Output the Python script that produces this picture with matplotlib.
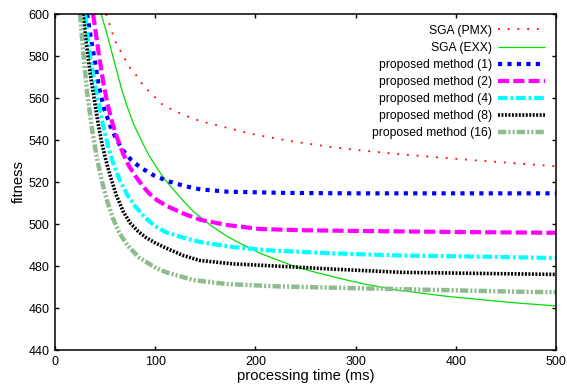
#!/usr/bin/env python

import matplotlib
matplotlib.use('Agg')
import matplotlib.pyplot as plt

plt.rcParams['font.family'] = ['Liberation Sans', 'DejaVu Sans']
plt.rcParams['lines.scale_dashes'] = False

labels = [
    'SGA (PMX)',
    'SGA (EXX)',
    'proposed method (1)',
    'proposed method (2)',
    'proposed method (4)',
    'proposed method (8)',
    'proposed method (16)',
]

# processing time (ms) / fitness
pmx_t = [51, 56, 59, 68, 78, 82, 88, 100, 108, 128, 145, 162, 195, 235, 278,
         302, 338, 375, 420, 458, 500]
pmx_v = [600, 593, 588, 580, 572, 570.5, 566, 560.3, 556.5, 552, 549, 547,
         543, 539.5, 536.5, 535.2, 533.5, 532, 530.3, 529, 527.5]

exx_t = [46, 51, 56, 61, 66, 72, 79, 87, 94, 102, 110, 118, 128, 138, 155,
         172, 190, 205, 238, 260, 285, 308, 342, 392, 458, 500]
exx_v = [600, 592, 583, 574, 565, 556, 547, 539, 532.5, 526.5, 521, 516.5,
         511, 506, 499.5, 494, 489.5, 486, 480, 477, 474, 471.5, 468.5, 465.5,
         462.5, 461]

p1_t = [32, 36, 40, 44, 49, 55, 61, 68, 76, 85, 98, 112, 130, 145, 172, 230,
        300, 500]
p1_v = [600, 588, 577, 565, 555, 547, 540.5, 535, 530.5, 527, 523.3, 520.5,
        518, 516.5, 515.4, 514.8, 514.6, 514.6]

p2_t = [38, 41, 44, 48, 52, 57, 62, 68, 74, 80, 87, 94, 102, 112, 128, 145,
        172, 205, 250, 300, 400, 500]
p2_v = [600, 590, 580, 568, 558, 548.5, 541, 533.5, 527.5, 523, 518.5, 514.5,
        511.3, 508.5, 505, 502, 499.5, 497.6, 497, 496.7, 496.2, 495.8]

p4_t = [30, 34, 38, 42, 48, 53, 58, 65, 72, 80, 90, 100, 111, 128, 145, 178,
        212, 278, 345, 420, 500]
p4_v = [600, 583, 571, 561, 547, 537, 529, 520.5, 514, 508.5, 503, 499, 496,
        493.5, 491.4, 489, 487.5, 486, 485, 484.5, 483.8]

p8_t = [28, 31, 35, 39, 43, 47, 51, 56, 61, 68, 75, 83, 91, 100, 111, 128,
        145, 178, 212, 278, 345, 420, 500]
p8_v = [600, 587, 572, 560, 548, 538, 530, 521.5, 514, 506, 500.5, 496.5,
        493.5, 491, 488.5, 485, 482.6, 481, 480.2, 478.5, 477, 476.5, 476]

p16_t = [25, 28, 32, 37, 42, 47, 52, 58, 64, 72, 84, 101, 111, 138, 172, 222,
         285, 380, 458, 500]
p16_v = [600, 583, 563, 545, 531, 520, 511, 502.5, 496, 490, 484, 479, 477,
         473.3, 471.4, 470.3, 469.6, 468.6, 467.8, 467.5]

series_t = [pmx_t, exx_t, p1_t, p2_t, p4_t, p8_t, p16_t]
series_v = [pmx_v, exx_v, p1_v, p2_v, p4_v, p8_v, p16_v]

styles = [
    dict(color='#ff0000', lw=1.3, dashes=(1.3, 5.7)),
    dict(color='#00e000', lw=0.9),
    dict(color='#0000ff', lw=3.0, dashes=(3.0, 3.8)),
    dict(color='#ff00ff', lw=3.0, dashes=(8.0, 3.0)),
    dict(color='#00ffff', lw=3.0, dashes=(7.0, 2.0, 2.0, 2.0)),
    dict(color='#000000', lw=2.6, dashes=(1.4, 1.1)),
    dict(color='#8fbc8f', lw=3.2, dashes=(6.0, 1.5, 1.5, 1.5, 1.5, 1.5)),
]


def plot_data():
    fig = plt.figure(figsize=(5.67, 3.85), dpi=100)
    ax = fig.add_axes([0.097, 0.0909, 0.8836, 0.8727])

    for t, v, lab, st in zip(series_t, series_v, labels, styles):
        ax.plot(t, v, label=lab, dash_capstyle='butt', solid_capstyle='butt', **st)

    ax.set_xlim(0, 500)
    ax.set_ylim(440, 600)
    ax.set_xticks(range(0, 501, 100))
    ax.set_yticks(range(440, 601, 20))
    ax.tick_params(direction='in', length=3.2, width=1, top=True, right=True,
                   labelsize=9, pad=4)
    for sp in ax.spines.values():
        sp.set_linewidth(1.1)

    ax.set_xlabel('processing time (ms)', fontsize=10.6, labelpad=1)
    ax.set_ylabel('fitness', fontsize=10.6, labelpad=2)

    ax.legend(loc='upper right', frameon=False, markerfirst=False, fontsize=8.7,
              handlelength=3.85, handletextpad=0.5, labelspacing=0.42,
              borderaxespad=0.4, bbox_to_anchor=(0.997, 0.997))

    plt.savefig('out.png', dpi=100)


if __name__ == '__main__':
    plot_data()
